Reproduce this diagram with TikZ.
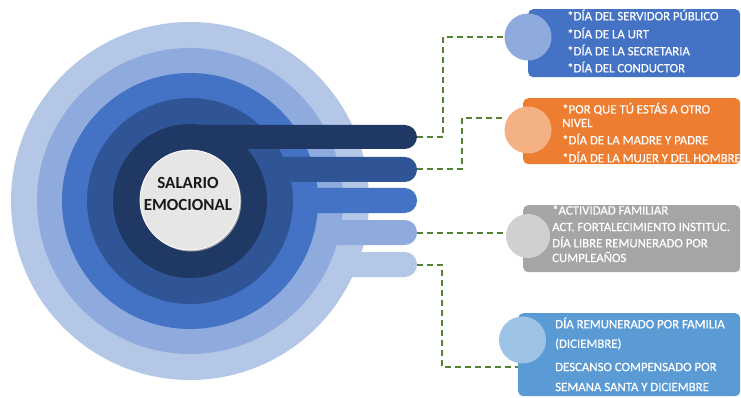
\documentclass[tikz,border=0pt]{standalone}
\usepackage{fontspec}
\setmainfont{Carlito}
\newfontface\boxfont{Carlito}[FakeBold=0.4]
\usetikzlibrary{backgrounds}
\definecolor{rA}{HTML}{B4C7E7}
\definecolor{rB}{HTML}{8FAADC}
\definecolor{rC}{HTML}{4472C4}
\definecolor{rD}{HTML}{2F5597}
\definecolor{rE}{HTML}{203864}
\definecolor{ctrgrey}{HTML}{E6E6E6}
\definecolor{conncol}{HTML}{548235}
\definecolor{boxA}{HTML}{4472C4}
\definecolor{boxB}{HTML}{ED7D31}
\definecolor{boxC}{HTML}{A5A5A5}
\definecolor{boxD}{HTML}{5B9BD5}
\definecolor{dotA}{HTML}{8FAADC}
\definecolor{dotB}{HTML}{F4B183}
\definecolor{dotC}{HTML}{D0D0D0}
\definecolor{dotD}{HTML}{9DC3E6}
\tikzset{
  barshape/.style={rounded corners=12.25pt},
  conn/.style={draw=conncol, line width=2pt, dash pattern=on 6pt off 4pt},
  infobox/.style={rectangle, rounded corners=5pt, inner sep=0pt, anchor=north west},
  dot/.style={circle, inner sep=0pt, minimum size=47pt},
  txt/.style={anchor=west, inner sep=0pt, text=white, font=\boxfont\fontsize{12.8}{14}\selectfont},
}
\begin{document}
\begin{tikzpicture}[x=1pt,y=-1pt]
\useasboundingbox (0,0) rectangle (741,398);
% rings and bars, outermost first
\fill[rA] (190,201) circle (179pt);
\fill[rA, barshape] (190,252) rectangle (417,277);
\fill[rB] (190,201) circle (153pt);
\fill[rB, barshape] (190,220) rectangle (417,245);
\fill[rC] (190,201) circle (128pt);
\fill[rC, barshape] (190,188) rectangle (417,213);
\fill[rD] (190,201) circle (103pt);
\fill[rD, barshape] (190,157) rectangle (417,182);
\fill[rE] (190,201) circle (77pt);
\fill[rE, barshape] (190,125) rectangle (417,149);
% centre
\fill[black!35] (191.3,201.5) circle (50pt);
\node[circle, fill=ctrgrey, draw=white, line width=0.8pt, minimum size=100pt, inner sep=0pt] (ctr) at (190,200) {};
\node[align=center, font=\bfseries\fontsize{17}{22}\selectfont, text=black!90, inner sep=0pt] (lbl) at (188,194) {SALARIO\\EMOCIONAL};
% bar ends
\coordinate (bar1) at (417,137);
\coordinate (bar2) at (417,169.5);
\coordinate (bar4) at (417,232.5);
\coordinate (bar5) at (417,264.5);
% boxes
\node[infobox, fill=boxA, minimum width=212pt, minimum height=68pt] (b1) at (528,9) {};
\node[infobox, fill=boxB, minimum width=217pt, minimum height=66pt] (b2) at (523,98) {};
\node[infobox, fill=boxC, minimum width=217pt, minimum height=67pt] (b3) at (523,205) {};
\node[infobox, fill=boxD, minimum width=222pt, minimum height=83pt] (b4) at (518,313) {};
% dots
\node[dot, fill=dotA] (c1) at (528,37) {};
\node[dot, fill=dotB] (c2) at (528,130) {};
\node[dot, fill=dotC, minimum size=44pt] (c3) at (528,236) {};
\node[dot, fill=dotD] (c4) at (522.5,340) {};
\coordinate (e2) at (c2.west |- 0,118);
\coordinate (e4) at (b4.west |- 0,367);
% connectors (behind boxes)
\begin{pgfonlayer}{background}
\draw[conn] (bar1) -- ++(26,0) |- (c1.west);
\draw[conn] (bar2) -- ++(45,0) |- (e2);
\draw[conn] (bar4) -- (bar4 -| c3.west);
\draw[conn] (bar5) -- ++(25,0) |- (e4);
\end{pgfonlayer}
% texts
\node[txt] (t1a) at (567,15) {*DÍA DEL SERVIDOR PÚBLICO};
\node[txt] (t1b) at (567,33) {*DÍA DE LA URT};
\node[txt] (t1c) at (567,50) {*DÍA DE LA SECRETARIA};
\node[txt] (t1d) at (567,67) {*DÍA DEL CONDUCTOR};
\node[txt] (t2a) at (562,109) {*POR QUE TÚ ESTÁS A OTRO};
\node[txt] (t2b) at (562,123) {NIVEL};
\node[txt] (t2c) at (562,139) {*DÍA DE LA MADRE Y PADRE};
\node[txt] (t2d) at (562,157) {*DÍA DE LA MUJER Y DEL HOMBRE};
\node[txt] (t3a) at (552,210) {*ACTIVIDAD FAMILIAR};
\node[txt] (t3b) at (552,227) {ACT. FORTALECIMIENTO INSTITUC.};
\node[txt] (t3c) at (552,242) {DÍA LIBRE REMUNERADO POR};
\node[txt] (t3d) at (552,257) {CUMPLEAÑOS};
\node[txt] (t4a) at (555,323) {DÍA REMUNERADO POR FAMILIA};
\node[txt] (t4b) at (555,344) {(DICIEMBRE)};
\node[txt] (t4c) at (555,367) {DESCANSO COMPENSADO POR};
\node[txt] (t4d) at (555,387) {SEMANA SANTA Y DICIEMBRE};
\end{tikzpicture}
\end{document}
